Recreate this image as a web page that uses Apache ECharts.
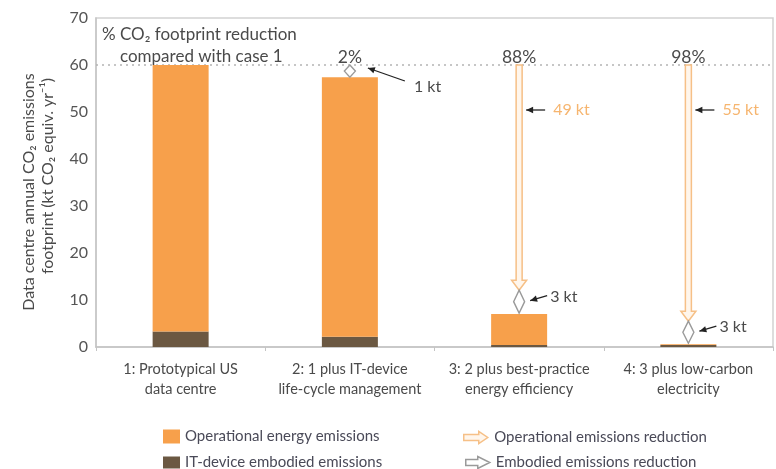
<!DOCTYPE html>
<html><head><meta charset="utf-8">
<script src="https://cdn.jsdelivr.net/npm/echarts@6/dist/echarts.min.js"></script>
<style>html,body{margin:0;padding:0;background:#fff}#c{width:776px;height:469px}</style>
</head><body><div id="c"></div>
<script>
const categories = ['1: Prototypical US\ndata centre', '2: 1 plus IT-device\nlife-cycle management', '3: 2 plus best-practice\nenergy efficiency', '4: 3 plus low-carbon\nelectricity'];
const operationalEmissions = [56.7, 55.2, 6.6, 0.2];
const embodiedEmissions = [3.3, 2.2, 0.4, 0.4];
const reductionPercent = ['', '2%', '88%', '98%'];
const operationalReductionFrom = [null, null, 60, 60];
const operationalReductionTo = [null, null, 12.1, 5.5];
const embodiedReductionFrom = [null, 60, 12.1, 5.5];
const embodiedReductionTo = [null, 57.4, 7.2, 0.8];
const operationalSavingLabel = ['', '', '49 kt', '55 kt'];
const embodiedSavingLabel = ['', '1 kt', '3 kt', '3 kt'];
const baselineValue = [60];
const yMin = 0, yMax = 70, yInterval = 10;
const yAxisTitleLines = ['Data centre annual CO₂ emissions', 'footprint (kt CO₂ equiv. yr⁻¹)'];

const FONT = 'Lato';
const ORANGE = '#f7a04b', BROWN = '#6b5842';
const ARROW_STROKE = '#f6c087', ARROW_FILL = '#fff6ec';
const DIAMOND_STROKE = '#9a9a9a';
const TXT = '#4a4a4a';
const LEG_TXT = {color: '#4a4a58', fontSize: 15, fontFamily: FONT};

function headPoly(tail, head, len, half) {
  const dx = head[0] - tail[0], dy = head[1] - tail[1];
  const L = Math.sqrt(dx * dx + dy * dy) || 1;
  const ux = dx / L, uy = dy / L;
  const bx = head[0] - ux * len, by = head[1] - uy * len;
  return [head, [bx - uy * half, by + ux * half], [bx + uy * half, by - ux * half]];
}
function blackArrow(tail, head) {
  return [
    {type: 'line', shape: {x1: tail[0], y1: tail[1], x2: head[0], y2: head[1]}, style: {stroke: '#222', lineWidth: 1.3}},
    {type: 'polygon', shape: {points: headPoly(tail, head, 7, 3.2)}, style: {fill: '#222'}}
  ];
}
function legendItem(left, top, name, icon, w, h, itemStyle) {
  const d = {name: name, icon: icon};
  if (itemStyle) d.itemStyle = itemStyle;
  return {orient: 'horizontal', left: left, top: top, itemWidth: w, itemHeight: h, itemGap: 0,
    padding: 0, textStyle: LEG_TXT, selectedMode: false, data: [d]};
}

const chart = echarts.init(document.getElementById('c'));
chart.setOption({
  animation: false,
  textStyle: {fontFamily: FONT},
  grid: {left: 96, right: 3, top: 18, bottom: 122, show: true, borderColor: '#d2d2d2', borderWidth: 1.5, containLabel: false},
  xAxis: {
    type: 'category', data: categories,
    axisLine: {lineStyle: {color: '#c4c4c4', width: 1.5}},
    axisTick: {show: true, length: 4, lineStyle: {color: '#c4c4c4'}},
    axisLabel: {color: TXT, fontSize: 14.5, lineHeight: 20, margin: 12, fontFamily: FONT, interval: 0}
  },
  yAxis: {
    type: 'value', min: yMin, max: yMax, interval: yInterval,
    axisLine: {show: true, lineStyle: {color: '#c4c4c4', width: 1.5}},
    axisTick: {show: false},
    splitLine: {show: false},
    axisLabel: {color: '#555', fontSize: 16, margin: 8, fontFamily: FONT}
  },
  legend: [
    legendItem(163, 429, 'Operational energy emissions', 'rect', 17, 14),
    legendItem(163, 455, 'IT-device embodied emissions', 'rect', 17, 12),
    legendItem(463, 430, 'Operational emissions reduction', 'path://M0,3 L15,3 L15,0 L24,6 L15,12 L15,9 L0,9 Z', 27, 12,
      {color: ARROW_FILL, borderColor: ARROW_STROKE, borderWidth: 1.5}),
    legendItem(465, 455, 'Embodied emissions reduction', 'path://M0,3 L12,3 L12,0 L24,6 L12,12 L12,9 L0,9 Z', 26, 12,
      {color: '#fff', borderColor: DIAMOND_STROKE, borderWidth: 1.5})
  ],
  graphic: [
    {type: 'text', x: 29, y: 192, rotation: Math.PI / 2,
      style: {text: yAxisTitleLines[0], fill: TXT, font: '16px ' + FONT, align: 'center', verticalAlign: 'middle'}},
    {type: 'text', x: 48, y: 176, rotation: Math.PI / 2,
      style: {text: yAxisTitleLines[1], fill: TXT, font: '16px ' + FONT, align: 'center', verticalAlign: 'middle'}},
    {type: 'text', left: 102, top: 26, style: {text: '% CO₂ footprint reduction', fill: TXT, font: '17px ' + FONT}},
    {type: 'text', left: 120, top: 48, style: {text: 'compared with case 1', fill: TXT, font: '17px ' + FONT}}
  ],
  series: [
    {
      name: 'baseline', type: 'custom', z: 1, silent: true,
      data: baselineValue.map(v => [0, v]),
      renderItem: function (params, api) {
        const cs = params.coordSys;
        const p = api.coord([0, api.value(1)]);
        return {type: 'line', shape: {x1: cs.x, y1: p[1], x2: cs.x + cs.width, y2: p[1]},
          style: {stroke: '#b4b4b4', lineWidth: 1.5, lineDash: [2, 4]}};
      }
    },
    {
      name: 'IT-device embodied emissions', type: 'bar', stack: 'total', barWidth: 56, z: 2,
      itemStyle: {color: BROWN}, data: embodiedEmissions
    },
    {
      name: 'Operational energy emissions', type: 'bar', stack: 'total', barWidth: 56, z: 2,
      itemStyle: {color: ORANGE}, data: operationalEmissions
    },
    {
      name: 'Operational emissions reduction', type: 'custom', z: 3, silent: true,
      itemStyle: {color: ARROW_STROKE},
      data: categories.map((c, i) => [i, operationalReductionFrom[i], operationalReductionTo[i]]).filter(d => d[1] != null),
      renderItem: function (params, api) {
        const i = api.value(0);
        const p1 = api.coord([i, api.value(1)]);
        const p2 = api.coord([i, api.value(2)]);
        const x = p1[0], hw = 3, hh = 7.5, hl = 10;
        const pts = [[x - hw, p1[1]], [x + hw, p1[1]], [x + hw, p2[1] - hl], [x + hh, p2[1] - hl], [x, p2[1]], [x - hh, p2[1] - hl], [x - hw, p2[1] - hl]];
        const y = p1[1] + 45;
        const children = [
          {type: 'polygon', shape: {points: pts}, style: {fill: ARROW_FILL, stroke: ARROW_STROKE, lineWidth: 1.5}}
        ].concat(blackArrow([x + 26, y], [x + 7, y]));
        children.push({type: 'text', style: {text: operationalSavingLabel[i], x: x + 34, y: y, fill: '#f6b56f', font: '16px ' + FONT, verticalAlign: 'middle'}});
        return {type: 'group', children: children};
      }
    },
    {
      name: 'Embodied emissions reduction', type: 'custom', z: 4, silent: true,
      itemStyle: {color: DIAMOND_STROKE},
      data: categories.map((c, i) => [i, embodiedReductionFrom[i], embodiedReductionTo[i]]).filter(d => d[1] != null),
      renderItem: function (params, api) {
        const i = api.value(0);
        const p1 = api.coord([i, api.value(1)]);
        const p2 = api.coord([i, api.value(2)]);
        const x = p1[0], top = p1[1], bot = p2[1], mid = (top + bot) / 2, w = 5.5;
        const children = [
          {type: 'polygon', shape: {points: [[x, top], [x + w, mid], [x, bot], [x - w, mid]]}, style: {fill: '#fff', stroke: DIAMOND_STROKE, lineWidth: 1.4}}
        ];
        let head, tail, tx, ty;
        if (i === 1) { head = [x + 18, top + 3]; tail = [x + 55, top + 16]; tx = x + 64; ty = top + 22; }
        else { head = [x + 11, mid - 1]; tail = [x + 28, mid - 6]; tx = x + 31; ty = mid - 5; }
        children.push.apply(children, blackArrow(tail, head));
        children.push({type: 'text', style: {text: embodiedSavingLabel[i], x: tx, y: ty, fill: TXT, font: '16px ' + FONT, verticalAlign: 'middle'}});
        return {type: 'group', children: children};
      }
    },
    {
      name: 'percent', type: 'custom', z: 4, silent: true,
      data: categories.map((c, i) => [i, baselineValue[0]]).filter((d, i) => reductionPercent[i] !== ''),
      renderItem: function (params, api) {
        const i = api.value(0);
        const p = api.coord([i, api.value(1)]);
        return {type: 'text', style: {text: reductionPercent[i], x: p[0], y: p[1] + 1, fill: TXT, font: '17.5px ' + FONT, align: 'center', verticalAlign: 'bottom'}};
      }
    }
  ]
});
</script></body></html>
